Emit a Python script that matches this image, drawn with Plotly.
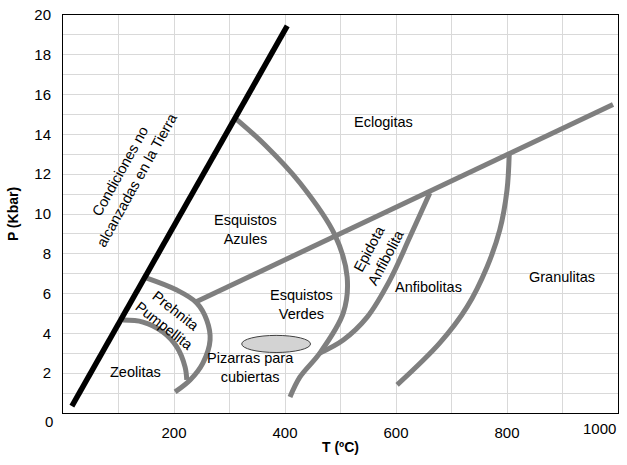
import plotly.graph_objects as go

# ---- data (T in ºC, P in Kbar) ----
black_T = [16, 404]
black_P = [0.35, 19.45]

main_T = [241, 991]
main_P = [5.6, 15.5]

blue_T = [310, 364, 427, 490, 512, 505, 463, 427, 409]
blue_P = [14.82, 13.47, 11.56, 8.94, 6.83, 5.03, 3.02, 1.81, 0.80]

epi_T = [661, 625, 589, 548, 505, 463]
epi_P = [11.06, 8.84, 6.68, 4.82, 3.67, 3.02]

gran_T = [804, 800, 787, 764, 728, 679, 602]
gran_P = [13.02, 11.2, 9.2, 7.34, 5.33, 3.52, 1.41]

preh_T = [151, 205, 241, 259, 265, 252, 229, 202]
preh_P = [6.78, 6.18, 5.53, 4.67, 3.67, 2.51, 1.66, 1.06]

zeo_T = [108, 144, 180, 205, 220, 223]
zeo_P = [4.67, 4.57, 4.07, 3.32, 2.31, 1.66]

slate_center = (384, 3.47)
slate_half_width = 62
slate_half_height = 0.43

x_tick_vals = [200, 400, 600, 800]
x_last_tick = 1000
y_tick_vals = [2, 4, 6, 8, 10, 12, 14, 16, 18, 20]
y_first_tick = 0

labels = [
    ("Eclogitas", 577, 14.62, 0),
    ("Esquistos<br>Azules", 328, 9.2, 0),
    ("Esquistos<br>Verdes", 429, 5.43, 0),
    ("Epidota<br>Anfibolita", 566, 8.04, -62),
    ("Anfibolitas", 658, 6.33, 0),
    ("Granulitas", 899, 6.83, 0),
    ("Condiciones no<br>alcanzadas en la Tierra", 118, 11.95, -61),
    ("Prehnita<br>Pumpellita", 193, 4.77, 38),
    ("Zeolitas", 130, 2.06, 0),
    ("Pizarras para<br>cubiertas", 337, 2.31, 0),
]

GRAY = "#7f7f7f"
FONT = "Liberation Sans, Arial, sans-serif"
LABEL_SIZE = 14.5
TICK_SIZE = 15

fig = go.Figure()

def add_line(T, P, color=GRAY, width=5, shape="linear"):
    fig.add_trace(go.Scatter(x=T, y=P, mode="lines",
                             line=dict(color=color, width=width, shape=shape, smoothing=1.0),
                             hoverinfo="skip", showlegend=False))

add_line(main_T, main_P)
add_line(blue_T, blue_P, shape="spline")
add_line(epi_T, epi_P, shape="spline")
add_line(gran_T, gran_P, shape="spline")
add_line(preh_T, preh_P, shape="spline")
add_line(zeo_T, zeo_P, shape="spline")
add_line(black_T, black_P, color="black", width=5.5)

cx, cy = slate_center
fig.add_shape(type="circle", xref="x", yref="y",
              x0=cx - slate_half_width, x1=cx + slate_half_width,
              y0=cy - slate_half_height, y1=cy + slate_half_height,
              fillcolor="#d3d3d3", line=dict(color="#404040", width=1))

for text, t, p, ang in labels:
    fig.add_annotation(x=t, y=p, text=text, showarrow=False, textangle=ang,
                       font=dict(family=FONT, size=LABEL_SIZE, color="black"))

# last x tick label, right-aligned to the plot edge as in the original
fig.add_annotation(x=x_last_tick, xref="x", y=0, yref="paper", yanchor="top",
                   xanchor="right", yshift=-5, text=str(x_last_tick), showarrow=False,
                   font=dict(family=FONT, size=TICK_SIZE, color="black"))
# y "0" label sits a little below the axis in the original
fig.add_annotation(x=0, xref="paper", y=y_first_tick, yref="y", xanchor="right",
                   xshift=-8, yshift=-8, text=str(y_first_tick), showarrow=False,
                   font=dict(family=FONT, size=TICK_SIZE, color="black"))

grid = "#d9d9d9"
fig.update_layout(
    width=627, height=465,
    margin=dict(l=63, r=9, t=15, b=52),
    paper_bgcolor="white", plot_bgcolor="white",
    font=dict(family=FONT, size=TICK_SIZE, color="black"),
    xaxis=dict(range=[0, 1000], tickvals=x_tick_vals, automargin=False,
               showgrid=True, gridcolor=grid, gridwidth=1,
               minor=dict(dtick=100, tick0=0, showgrid=True, gridcolor=grid),
               showline=True, linecolor="black", linewidth=1, mirror=True,
               zeroline=False, ticks="", ticklabelstandoff=6, ticklabeloverflow="allow",
               title=dict(text="<b>T (ºC)</b>", font=dict(size=14), standoff=2)),
    yaxis=dict(range=[0, 20], tickvals=y_tick_vals, automargin=False,
               showgrid=True, gridcolor=grid, gridwidth=1,
               minor=dict(dtick=1, tick0=0, showgrid=True, gridcolor=grid),
               showline=True, linecolor="black", linewidth=1, mirror=True,
               zeroline=False, ticks="", ticklabelstandoff=8, ticklabeloverflow="allow",
               title=dict(text="<b>P (Kbar)</b>", font=dict(size=14), standoff=12)),
)

# remove the browser's default 8px page margin so the figure fills the window exactly
fig.write_html("out.html", config={"displayModeBar": False},
               post_script="document.body.style.margin='0px';")
